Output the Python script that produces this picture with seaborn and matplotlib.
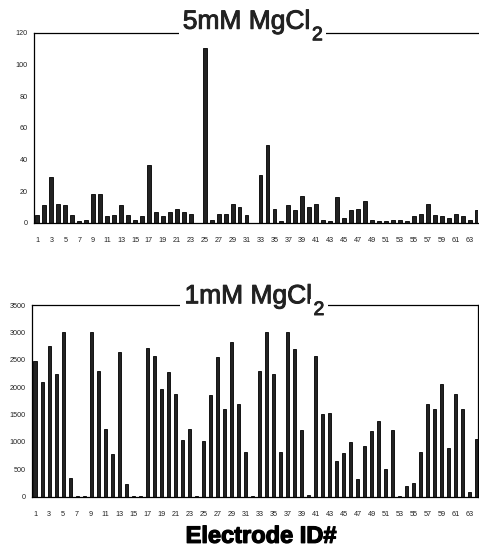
"""Two-panel bar chart: electrode responses at 5 mM and 1 mM MgCl2."""

import matplotlib

matplotlib.use("Agg")

import matplotlib.patheffects as pe
import matplotlib.pyplot as plt
import numpy as np
import pandas as pd
import seaborn as sns

ELECTRODES = list(range(1, 65))

MG5_VALUES = [
    5, 11.5, 29, 12, 11.5, 5, 1, 1.5, 18, 18,
    4, 5, 11.5, 5, 1.7, 4, 36.5, 7, 4, 7,
    8.8, 7, 5.7, 0, 110.5, 1.7, 5.7, 5.7, 12, 10,
    5, 0, 30, 49.3, 8.8, 1, 11.5, 8, 17, 9.7,
    12, 1.7, 1, 16, 3, 8, 8.8, 13.7, 1.7, 1,
    1, 1.7, 1.7, 1, 4, 5.7, 12, 5, 4, 3,
    5.7, 4, 1.7, 8,
]

MG1_VALUES = [
    2480, 2100, 2750, 2240, 3000, 350, 20, 5, 3000, 2290,
    1240, 780, 2650, 240, 10, 5, 2720, 2570, 1960, 2270,
    1880, 1030, 1240, 5, 1010, 1860, 2550, 1600, 2830, 1700,
    820, 5, 2290, 3000, 2245, 820, 3000, 2700, 1215, 30,
    2570, 1505, 1535, 655, 800, 1005, 330, 935, 1195, 1380,
    505, 1215, 5, 195, 245, 820, 1700, 1600, 2060, 890,
    1875, 1600, 80, 1055,
]

TOP_TITLE = "5mM MgCl"
BOTTOM_TITLE = "1mM MgCl"
SUBSCRIPT = "2"
TOP_YTICKS = [0, 20, 40, 60, 80, 100, 120]
BOTTOM_YTICKS = [0, 500, 1000, 1500, 2000, 2500, 3000, 3500]
XLABEL = "Electrode ID#"

TITLE_FONT = ["Liberation Sans", "DejaVu Sans"]
THICKEN = [pe.withStroke(linewidth=0.7, foreground="#222222")]


def draw_panel(ax, values, title, yticks, bar_width, title_pos, right_spine):
    df = pd.DataFrame({"electrode": ELECTRODES, "value": values})
    sns.barplot(
        data=df, x="electrode", y="value", color="#222222",
        edgecolor="black", linewidth=0.6, width=bar_width,
        saturation=1, ax=ax,
    )
    ax.set_xlim(-0.48, 63.2)
    ax.set_ylim(yticks[0], yticks[-1])
    ax.set_yticks(yticks)
    ax.set_yticklabels([str(t) for t in yticks], fontsize=5.2, color="#222222")
    ax.set_xticks(range(0, 64, 2))
    ax.set_xticklabels([str(e) for e in ELECTRODES[::2]], fontsize=5.2, color="#222222")
    ax.set_xticks(np.arange(0.5, 63, 1), minor=True)
    ax.tick_params(axis="x", which="major", length=0, pad=10)
    ax.tick_params(axis="x", which="minor", direction="in", length=2, width=0.6)
    ax.tick_params(axis="y", length=1.5, width=0.6, pad=3)
    ax.set_xlabel("")
    ax.set_ylabel("")
    for side in ("left", "bottom", "top", "right"):
        ax.spines[side].set_color("black")
        ax.spines[side].set_linewidth(0.9)
    ax.spines["right"].set_visible(right_spine)

    # title sits on the top spine, with a white box breaking the line
    x_right, y_main, x_sub, y_sub = title_pos
    ax.text(
        x_right, y_main, title, transform=ax.transAxes, ha="right", va="baseline",
        fontsize=19, color="#222222", family=TITLE_FONT, path_effects=THICKEN,
        bbox=dict(facecolor="white", edgecolor="none", pad=3),
        zorder=5, clip_on=False,
    )
    ax.text(
        x_sub, y_sub, SUBSCRIPT, transform=ax.transAxes, ha="left", va="baseline",
        fontsize=14, color="#222222", family=TITLE_FONT, path_effects=THICKEN,
        bbox=dict(facecolor="white", edgecolor="none", pad=2.2),
        zorder=6, clip_on=False,
    )


def main() -> None:
    sns.set_theme(style="white")
    plt.rcParams["font.family"] = ["Liberation Sans", "DejaVu Sans"]

    fig = plt.figure(figsize=(4.79, 5.55), dpi=100)
    ax_top = fig.add_axes([0.071, 0.5987, 0.927, 0.3423])
    ax_bot = fig.add_axes([0.0662, 0.105, 0.9324, 0.3454])

    draw_panel(ax_top, MG5_VALUES, TOP_TITLE, TOP_YTICKS, 0.55,
               (0.6216, 1.021, 0.626, 0.9605), False)
    draw_panel(ax_bot, MG1_VALUES, BOTTOM_TITLE, BOTTOM_YTICKS, 0.45,
               (0.627, 1.009, 0.631, 0.948), True)

    fig.text(0.545, 0.022, XLABEL, ha="center", va="baseline", fontsize=17,
             fontweight="bold", color="black",
             path_effects=[pe.withStroke(linewidth=0.9, foreground="black")])

    fig.savefig("out.png", dpi=100)
    plt.close(fig)


if __name__ == "__main__":
    main()
